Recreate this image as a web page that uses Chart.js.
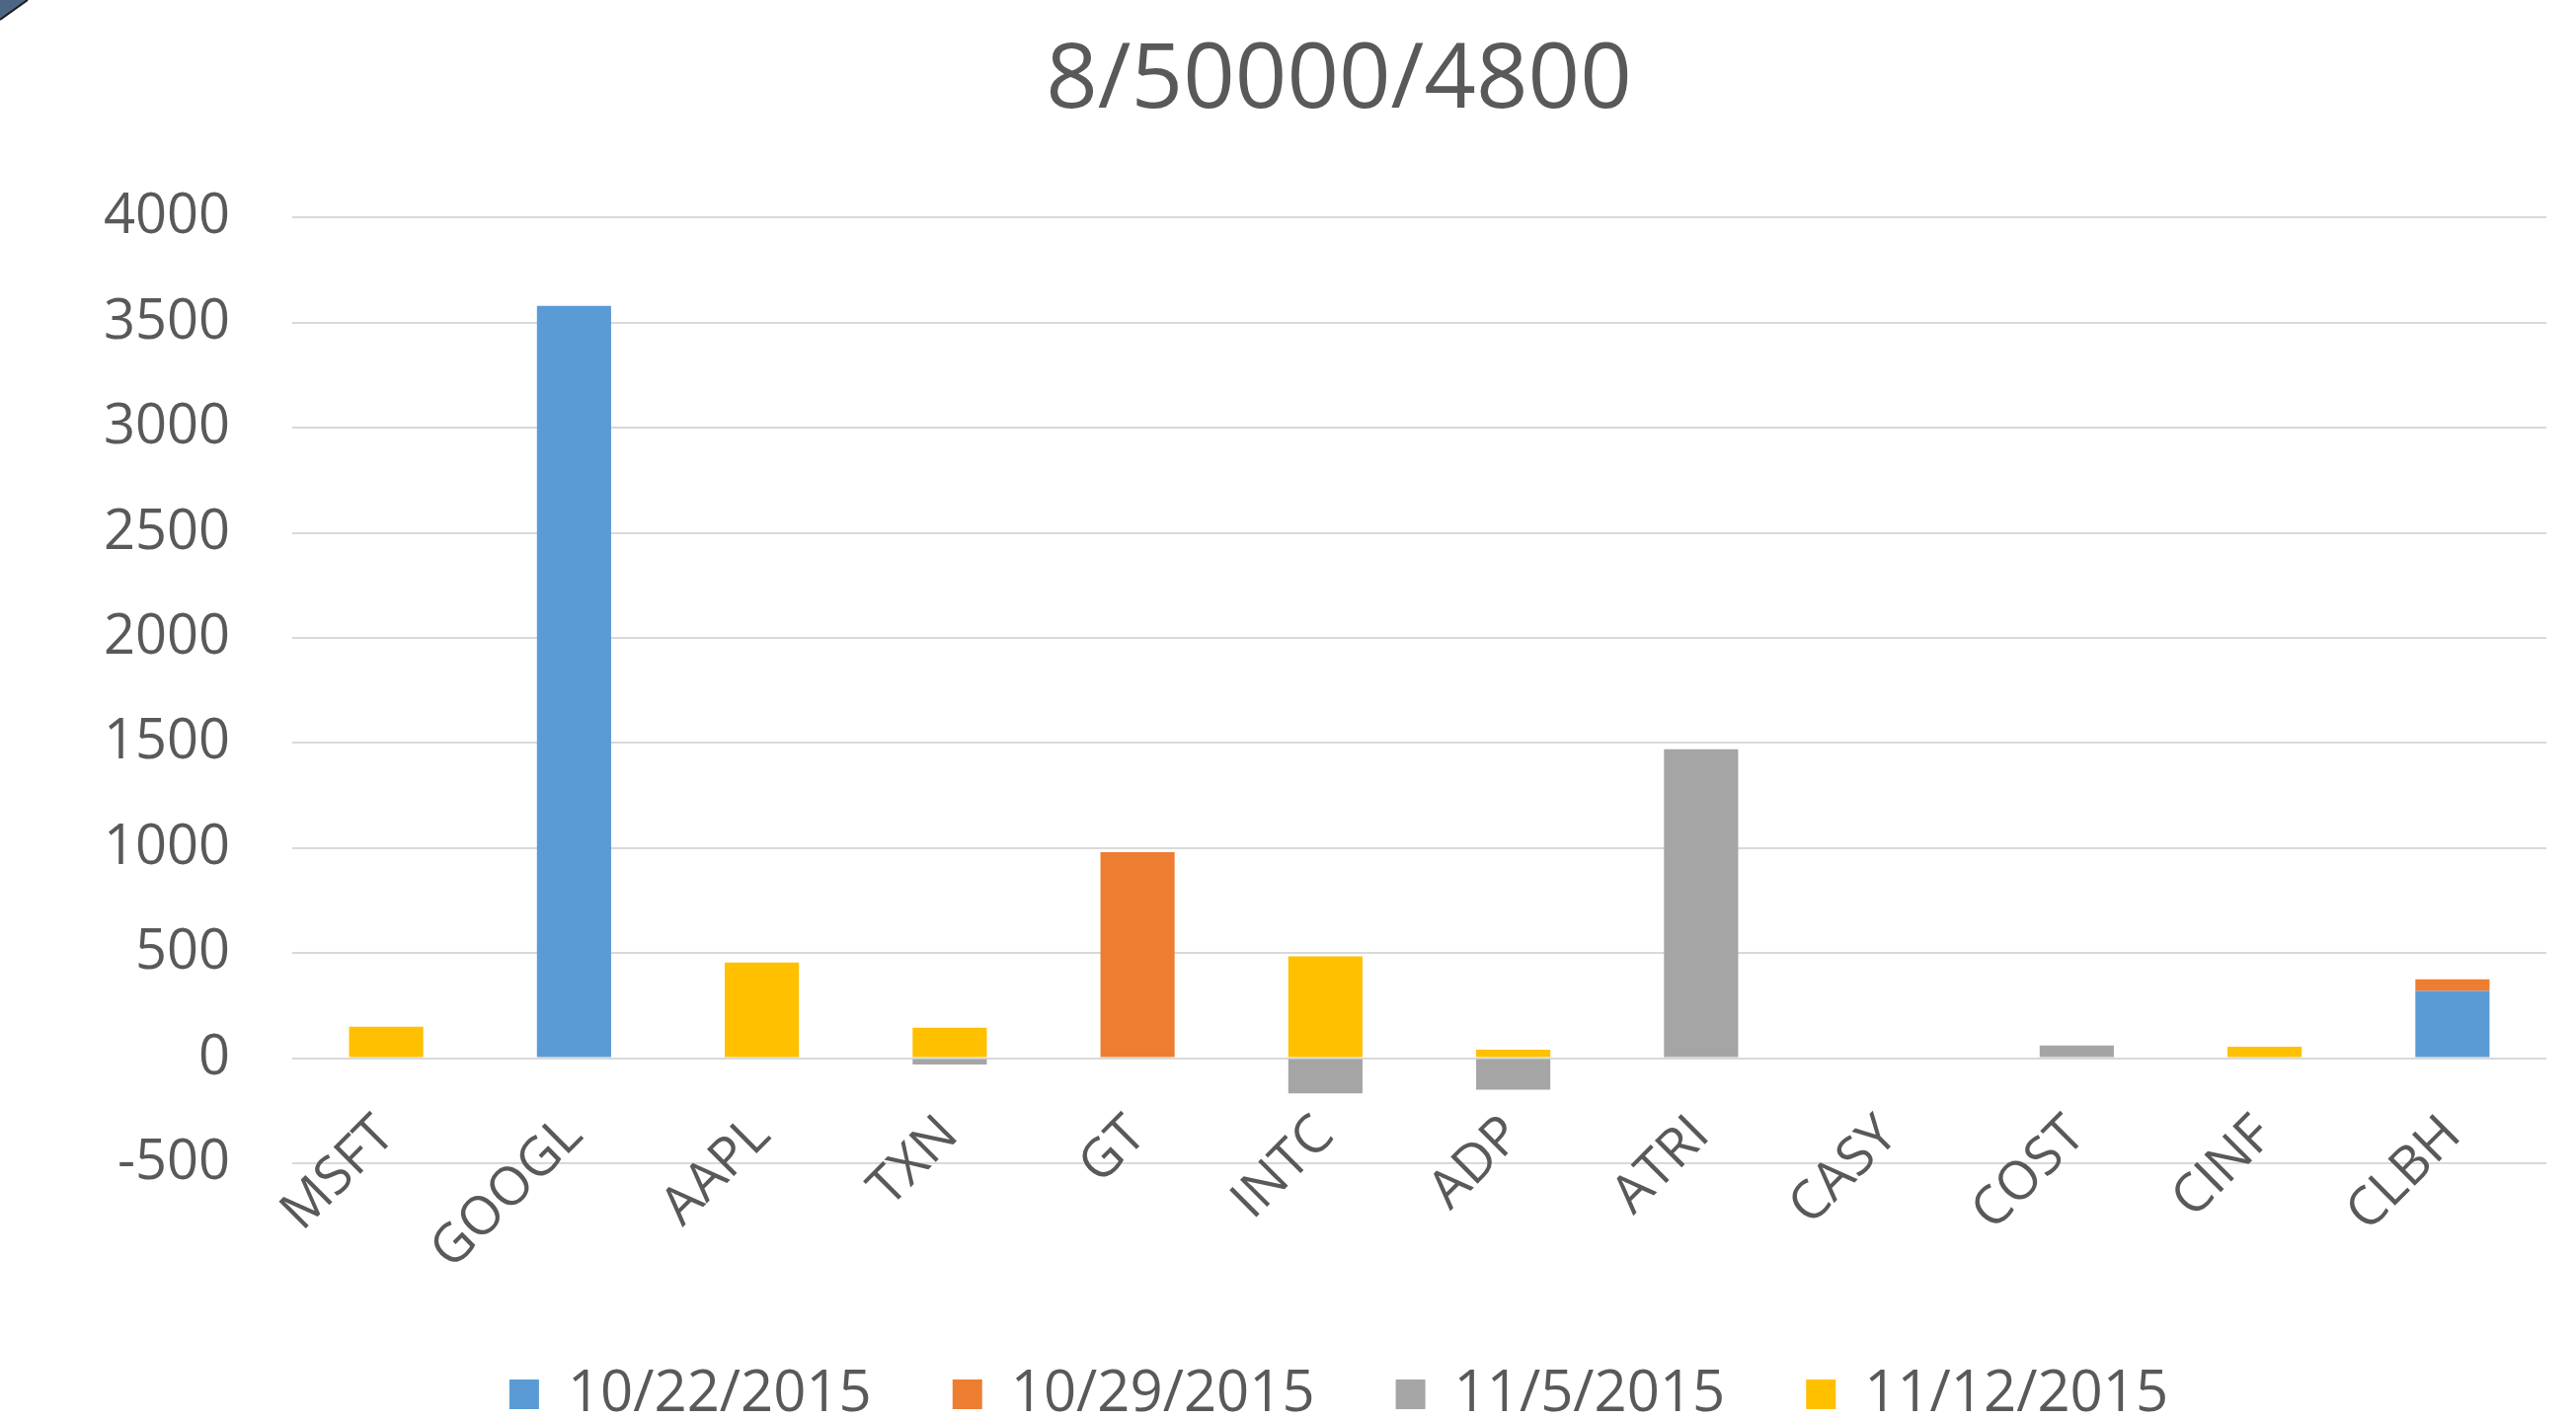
<!DOCTYPE html>
<html>
<head>
<meta charset="utf-8">
<script src="https://cdn.jsdelivr.net/npm/chart.js@4"></script>
<style>
  html, body { margin: 0; padding: 0; background: #ffffff; }
  canvas { display: block; }
</style>
</head>
<body>
<canvas id="c" width="2609" height="1437"></canvas>
<script>
const titleText = '8/50000/4800';
const categories = ['MSFT','GOOGL','AAPL','TXN','GT','INTC','ADP','ATRI','CASY','COST','CINF','CLBH'];
const seriesNames = ['10/22/2015','10/29/2015','11/5/2015','11/12/2015'];
const s1022 = [0, 3580, 0, 0, 0, 0, 0, 0, 0, 0, 0, 320];
const s1029 = [0, 0, 0, 0, 980, 0, 0, 0, 0, 0, 0, 55];
const s1105 = [0, 0, 0, -30, 0, -168, -150, 1470, 0, 60, 0, 0];
const s1112 = [150, 0, 455, 145, 0, 485, 40, 0, 0, 0, 55, 0];
const yMin = -500, yMax = 4000, yStep = 500;

const colors = ['#5b9bd5', '#ed7d31', '#a5a5a5', '#ffc000'];
const seriesValues = [s1022, s1029, s1105, s1112];

const cornerPlugin = {
  id: 'corner',
  beforeDraw(chart) {
    const ctx = chart.ctx;
    ctx.save();
    ctx.fillStyle = '#ffffff';
    ctx.fillRect(0, 0, chart.width, chart.height);
    ctx.beginPath();
    ctx.moveTo(0, 0);
    ctx.lineTo(28, 0);
    ctx.lineTo(0, 20);
    ctx.closePath();
    ctx.fillStyle = '#4d6685';
    ctx.fill();
    ctx.strokeStyle = '#1a1a1a';
    ctx.lineWidth = 2;
    ctx.beginPath();
    ctx.moveTo(28, 0);
    ctx.lineTo(0, 20);
    ctx.stroke();
    ctx.restore();
  }
};

const noClip = () => undefined;
const fontFamily = '"Open Sans", "DejaVu Sans", sans-serif';

const chart = new Chart(document.getElementById('c'), {
  type: 'bar',
  data: {
    labels: categories,
    datasets: seriesNames.map((name, i) => ({
      label: name,
      data: seriesValues[i],
      backgroundColor: colors[i],
      borderWidth: 0,
      categoryPercentage: 1.0,
      barPercentage: 0.395
    }))
  },
  options: {
    responsive: false,
    devicePixelRatio: 1,
    animation: false,
    layout: { padding: { left: 133, right: 30, top: 0, bottom: 0 } },
    plugins: {
      title: {
        display: true,
        text: titleText,
        color: '#595959',
        font: { family: fontFamily, size: 92, weight: 'normal' },
        padding: { top: 28, bottom: 82 }
      },
      legend: {
        display: true,
        position: 'bottom',
        labels: {
          color: '#595959',
          font: { family: fontFamily, size: 58 },
          boxWidth: 30,
          boxHeight: 30,
          padding: 82
        }
      },
      tooltip: { enabled: false }
    },
    scales: {
      x: {
        stacked: true,
        grid: { display: false, drawTicks: false },
        border: { display: false },
        afterFit(scale) { scale.height = 123; scale._computeLabelArea = noClip; },
        ticks: {
          color: '#595959',
          font: { family: fontFamily, size: 54 },
          maxRotation: 45,
          minRotation: 45,
          autoSkip: false,
          padding: -60
        }
      },
      y: {
        stacked: true,
        min: yMin,
        max: yMax,
        grid: { color: '#d9d9d9', lineWidth: 2, drawTicks: false },
        border: { display: false },
        afterFit(scale) { scale.width = 163; scale._computeLabelArea = noClip; },
        ticks: {
          stepSize: yStep,
          color: '#595959',
          font: { family: fontFamily, size: 56 },
          padding: 63,
          callback: (v) => String(v)
        }
      }
    }
  },
  plugins: [cornerPlugin]
});

const lg = chart.legend;
const origFit = lg.fit.bind(lg);
lg.fit = function () { origFit(); this.height = 136; };
chart.update();
</script>
</body>
</html>
